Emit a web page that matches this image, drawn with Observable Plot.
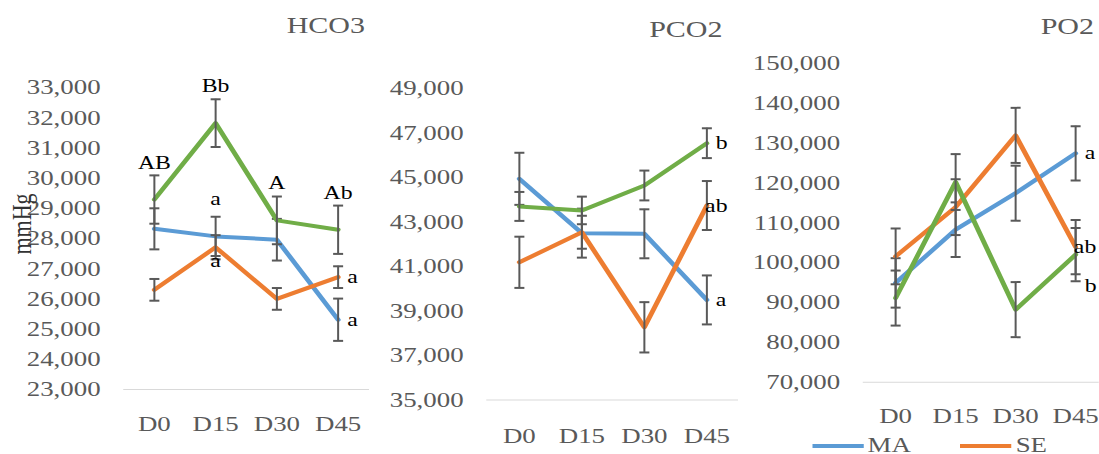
<!DOCTYPE html>
<html>
<head>
<meta charset="utf-8">
<script src="https://cdn.jsdelivr.net/npm/d3@7"></script>
<script src="https://cdn.jsdelivr.net/npm/@observablehq/plot@0.6"></script>
<style>
html, body { margin: 0; padding: 0; background: #fff; overflow: hidden; width: 1099px; height: 454px; }
#stage { position: absolute; left: 0; top: 0; width: 879.2px; height: 454px; transform: scaleX(1.25); transform-origin: 0 0; overflow: hidden;
  font-family: "Liberation Serif", "Times New Roman", serif; }
.panel { position: absolute; top: 0; overflow: hidden; }
.panel svg { display: block; }
.title { position: absolute; width: 200px; text-align: right; font-size: 24px; line-height: 1; color: #595959; white-space: nowrap; }
.ylab { position: absolute; font-size: 22px; line-height: 1; color: #333; white-space: nowrap; transform: translate(-50%, -50%) rotate(-90deg); }
.legline { position: absolute; height: 4px; }
.legtext { position: absolute; font-size: 21.5px; line-height: 1; color: #595959; white-space: nowrap; }
</style>
</head>
<body>
<div id="stage"></div>
<script>
// ---------------- data ----------------
const days = ["D0", "D15", "D30", "D45"];
const seriesNames = ["MA", "SE", "S3"];
const seriesColors = ["#5B9BD5", "#ED7D31", "#70AD47"];
const legendNames = ["MA", "SE"];

// HCO3
const hco3Ticks = [23, 24, 25, 26, 27, 28, 29, 30, 31, 32, 33];
const hco3MA = [28.32, 28.07, 27.96, 25.31];
const hco3MAErr = [0.68, 0.65, 0.69, 0.70];
const hco3SE = [26.30, 27.71, 26.00, 26.72];
const hco3SEErr = [0.36, 0.40, 0.36, 0.36];
const hco3S3 = [29.29, 31.82, 28.60, 28.29];
const hco3S3Err = [0.80, 0.79, 0.79, 0.80];
const hco3Labels = [
  {series: "S3", day: "D0", text: "AB", pos: "above"},
  {series: "S3", day: "D15", text: "Bb", pos: "above"},
  {series: "S3", day: "D30", text: "A", pos: "above"},
  {series: "S3", day: "D45", text: "Ab", pos: "above"},
  {series: "MA", day: "D15", text: "a", pos: "above"},
  {series: "SE", day: "D15", text: "a", pos: "below"},
  {series: "SE", day: "D45", text: "a", pos: "right"},
  {series: "MA", day: "D45", text: "a", pos: "right"}
];

// PCO2
const pco2Ticks = [35, 37, 39, 41, 43, 45, 47, 49];
const pco2MA = [44.93, 42.49, 42.46, 39.49];
const pco2MAErr = [1.17, 1.10, 1.10, 1.10];
const pco2SE = [41.18, 42.53, 38.26, 43.73];
const pco2SEErr = [1.15, 0.74, 1.13, 1.10];
const pco2S3 = [43.69, 43.51, 44.63, 46.53];
const pco2S3Err = [0.65, 0.62, 0.67, 0.67];
const pco2Labels = [
  {series: "S3", day: "D45", text: "b", pos: "right"},
  {series: "SE", day: "D45", text: "ab", pos: "over"},
  {series: "MA", day: "D45", text: "a", pos: "right"}
];

// PO2
const po2Ticks = [70, 80, 90, 100, 110, 120, 130, 140, 150];
const po2MA = [94.9, 108.25, 117.4, 127.4];
const po2MAErr = [6.2, 6.85, 6.9, 6.8];
const po2SE = [101.55, 113.9, 131.9, 103.9];
const po2SEErr = [7.0, 7.0, 6.9, 6.8];
const po2S3 = [91.1, 120.2, 88.2, 102.0];
const po2S3Err = [6.9, 7.0, 6.9, 6.7];
const po2Labels = [
  {series: "MA", day: "D45", text: "a", pos: "right"},
  {series: "SE", day: "D45", text: "ab", pos: "over"},
  {series: "S3", day: "D45", text: "b", pos: "rightLow"}
];

// ---------------- layout ----------------
const panels = [
  {title: "HCO3", left: 0, width: 300, height: 431, mL: 98.6, mR: 4.8, mT: 87, mB: 42, padX: 26.7,
   domain: [23, 33], ticks: hco3Ticks, titleRight: 292, titleTop: 13.3,
   values: {MA: [hco3MA, hco3MAErr], SE: [hco3SE, hco3SEErr], S3: [hco3S3, hco3S3Err]}, labels: hco3Labels},
  {title: "PCO2", left: 300, width: 300, height: 442.7, mL: 89, mR: 9.6, mT: 87.7, mB: 43.3, padX: 27.9,
   domain: [35, 49], ticks: pco2Ticks, titleRight: 578, titleTop: 16.8,
   values: {MA: [pco2MA, pco2MAErr], SE: [pco2SE, pco2SEErr], S3: [pco2S3, pco2S3Err]}, labels: pco2Labels},
  {title: "PO2", left: 590, width: 300, height: 454, mL: 100.2, mR: 4.4, mT: 62.7, mB: 72.3, padX: 25.3,
   domain: [70, 150], ticks: po2Ticks, titleRight: 875.2, titleTop: 13.8,
   values: {MA: [po2MA, po2MAErr], SE: [po2SE, po2SEErr], S3: [po2S3, po2S3Err]}, labels: po2Labels}
];

const fmt = v => d3.format(",.3f")(v).replace(".", ",");
const capSym = {draw(ctx) { ctx.moveTo(-4, 0); ctx.lineTo(4, 0); }};
const labelStyles = {
  above: {dx: 0, dy: -37, textAnchor: "middle", useErr: 0},
  below: {dx: 0, dy: 14, textAnchor: "middle", useErr: 0},
  right: {dx: 7.2, dy: 0, textAnchor: "start", useErr: 0},
  over: {dx: -1.4, dy: 0, textAnchor: "start", useErr: 0},
  rightLow: {dx: 7.2, dy: 5, textAnchor: "start", useErr: -1}
};
const errColor = "#595959";

function build(p) {
  const marks = [Plot.ruleY([p.domain[0]], {stroke: "#D9D9D9", strokeWidth: 1})];
  seriesNames.forEach((s, si) => {
    const [vals, errs] = p.values[s];
    const data = days.map((d, i) => ({day: d, v: vals[i], e: errs[i]}));
    marks.push(Plot.line(data, {x: "day", y: "v", stroke: seriesColors[si], strokeWidth: 4,
      strokeLinejoin: "round", strokeLinecap: "round"}));
    marks.push(Plot.ruleX(data, {x: "day", y1: d => d.v - d.e, y2: d => d.v + d.e, stroke: errColor, strokeWidth: 1.6}));
    marks.push(Plot.dot(data, {x: "day", y: d => d.v + d.e, symbol: capSym, stroke: errColor, strokeWidth: 2, fill: "none"}));
    marks.push(Plot.dot(data, {x: "day", y: d => d.v - d.e, symbol: capSym, stroke: errColor, strokeWidth: 2, fill: "none"}));
  });
  Object.entries(labelStyles).forEach(([pos, st]) => {
    const rows = p.labels.filter(l => l.pos === pos).map(l => {
      const i = days.indexOf(l.day);
      const [vals, errs] = p.values[l.series];
      return {day: l.day, text: l.text, y: vals[i] + st.useErr * errs[i]};
    });
    if (rows.length) marks.push(Plot.text(rows, {x: "day", y: "y", text: "text", dx: st.dx, dy: st.dy,
      textAnchor: st.textAnchor, fontSize: 19, fill: "#000", fontFamily: "Liberation Serif"}));
  });
  return Plot.plot({
    width: p.width, height: p.height,
    marginLeft: p.mL, marginRight: p.mR, marginTop: p.mT, marginBottom: p.mB,
    style: {background: "transparent", fontFamily: "Liberation Serif, Times New Roman, serif", fontSize: "21.5px", color: "#595959"},
    x: {type: "point", domain: days, padding: 0.5, label: null, tickSize: 0, tickPadding: p.padX},
    y: {domain: p.domain, ticks: p.ticks, tickFormat: fmt, tickSize: 0, tickPadding: 18.6, label: null},
    marks
  });
}

const stage = document.getElementById("stage");
panels.forEach(p => {
  const div = document.createElement("div");
  div.className = "panel";
  div.style.left = p.left + "px";
  div.style.width = p.width + "px";
  div.style.height = p.height + "px";
  div.appendChild(build(p));
  stage.appendChild(div);
  const t = document.createElement("div");
  t.className = "title";
  t.textContent = p.title;
  t.style.left = (p.titleRight - 200) + "px";
  t.style.top = p.titleTop + "px";
  stage.appendChild(t);
});

const yl = document.createElement("div");
yl.className = "ylab";
yl.textContent = "mmHg";
yl.style.left = "18px";
yl.style.top = "224px";
stage.appendChild(yl);

// legend (bottom, partly cut off as in the reference)
const legX = [649.6, 768];
legendNames.forEach((n, i) => {
  const ln = document.createElement("div");
  ln.className = "legline";
  ln.style.left = legX[i] + "px";
  ln.style.width = "41px";
  ln.style.top = "444px";
  ln.style.background = seriesColors[i];
  stage.appendChild(ln);
  const tx = document.createElement("div");
  tx.className = "legtext";
  tx.textContent = n;
  tx.style.left = (legX[i] + 44.5) + "px";
  tx.style.top = "434.5px";
  stage.appendChild(tx);
});
</script>
</body>
</html>
